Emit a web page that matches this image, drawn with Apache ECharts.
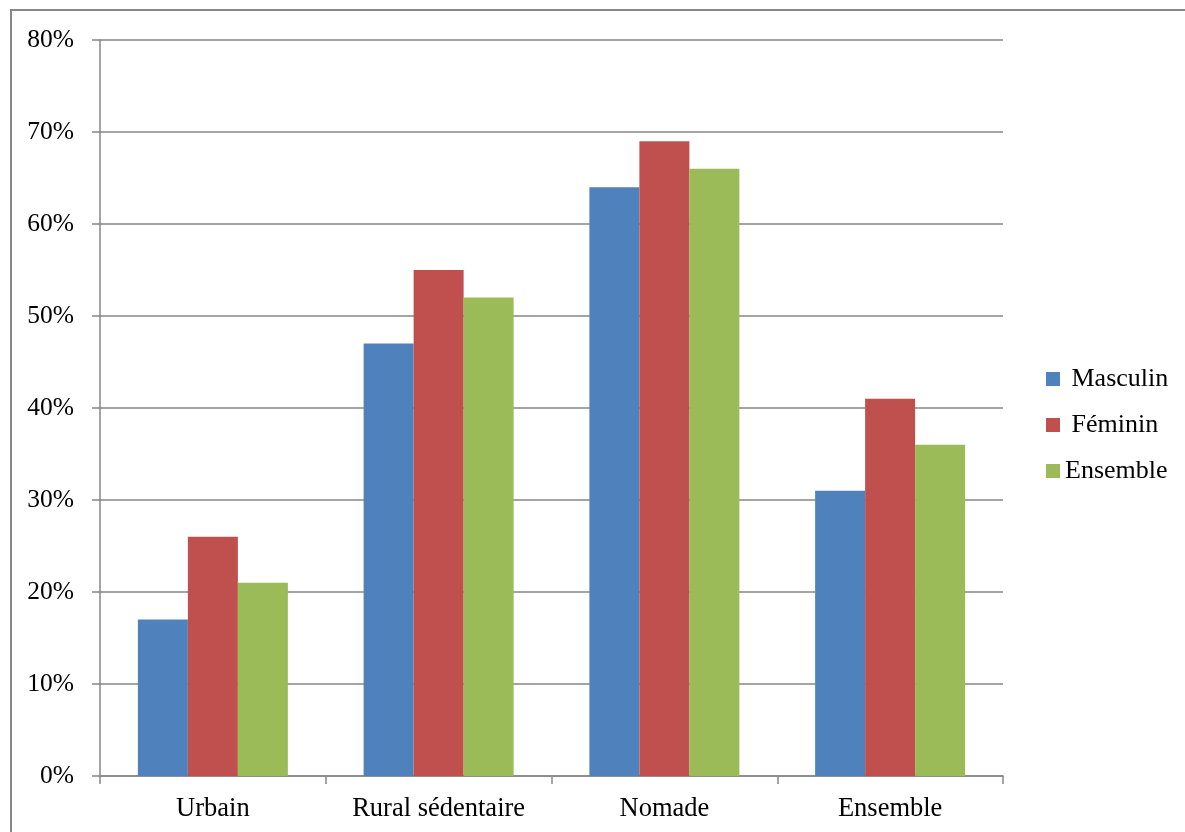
<!DOCTYPE html>
<html>
<head>
<meta charset="utf-8">
<script src="https://cdn.jsdelivr.net/npm/echarts@6/dist/echarts.min.js"></script>
<style>
html,body{margin:0;padding:0;background:#fff;}
#chart{width:1185px;height:832px;}
</style>
</head>
<body>
<div id="chart"></div>
<script>
const categories = ['Urbain', 'Rural sédentaire', 'Nomade', 'Ensemble'];
const masculin = [17, 47, 64, 31];
const feminin = [26, 55, 69, 41];
const ensemble = [21, 52, 66, 36];
const yTicks = [0, 10, 20, 30, 40, 50, 60, 70, 80];

const chart = echarts.init(document.getElementById('chart'), null, {renderer: 'canvas'});
const font = 'Liberation Serif';
const axisGray = '#868686';

chart.setOption({
  animation: false,
  backgroundColor: '#fff',
  color: ['#4F81BD', '#C0504D', '#9BBB59'],
  graphic: [{
    type: 'rect',
    shape: {x: 11, y: 10, width: 1200, height: 850},
    style: {fill: 'none', stroke: axisGray, lineWidth: 2},
    silent: true
  }],
  grid: {left: 100, right: 182, top: 40, bottom: 56, containLabel: false},
  legend: {
    orient: 'vertical',
    left: 1046,
    top: 366,
    padding: 0,
    itemWidth: 14,
    itemHeight: 14,
    itemGap: 20,
    icon: 'rect',
    textStyle: {fontFamily: font, fontSize: 26, color: '#000', lineHeight: 26},
    formatter: function (n) { return n === 'Ensemble' ? n : ' ' + n; },
    data: ['Masculin', 'Féminin', 'Ensemble']
  },
  xAxis: {
    type: 'category',
    data: categories,
    axisLine: {lineStyle: {color: axisGray, width: 1.5}},
    axisTick: {show: true, length: 8, lineStyle: {color: axisGray, width: 1.5}},
    axisLabel: {fontFamily: font, fontSize: 26.5, color: '#000', margin: 20}
  },
  yAxis: {
    type: 'value',
    min: yTicks[0],
    max: yTicks[yTicks.length - 1],
    interval: 10,
    axisLine: {show: true, lineStyle: {color: axisGray, width: 1.5}},
    axisTick: {show: true, length: 8, lineStyle: {color: axisGray, width: 1.5}},
    splitLine: {show: true, lineStyle: {color: axisGray, width: 1.5}},
    axisLabel: {fontFamily: font, fontSize: 25.5, color: '#000', margin: 26, formatter: '{value}%'}
  },
  series: [
    {name: 'Masculin', type: 'bar', data: masculin, barWidth: 50, barGap: '0%'},
    {name: 'Féminin', type: 'bar', data: feminin, barWidth: 50, barGap: '0%'},
    {name: 'Ensemble', type: 'bar', data: ensemble, barWidth: 50, barGap: '0%'}
  ]
});
</script>
</body>
</html>
